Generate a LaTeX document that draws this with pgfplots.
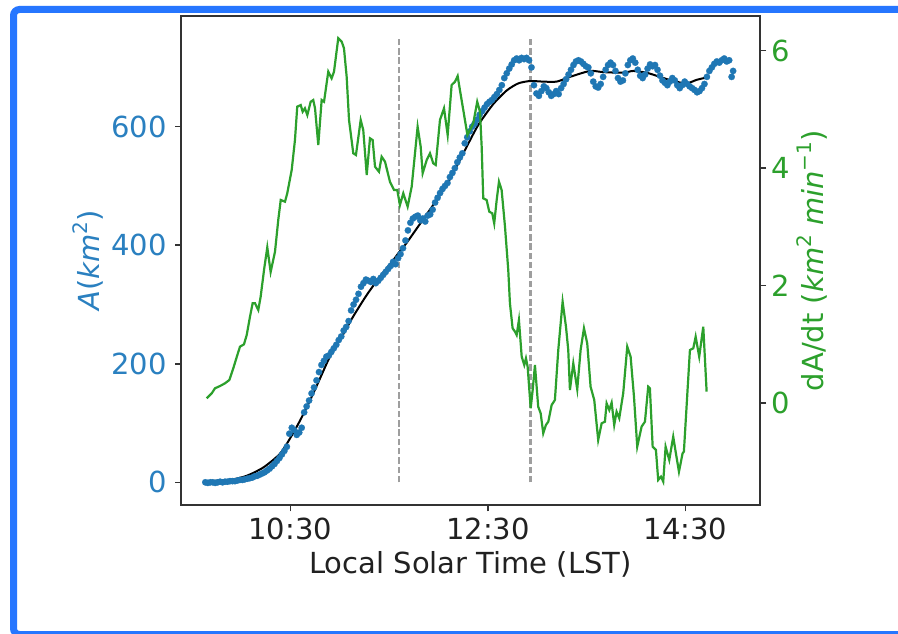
\documentclass[border=0pt]{standalone}
\usepackage{fontspec}
\setmainfont{DejaVu Sans}
\usepackage{pgfplots}
\pgfplotsset{compat=1.18}
\definecolor{tabblue}{HTML}{1F77B4}
\definecolor{labblue}{HTML}{2A80C0}
\definecolor{tabgreen}{HTML}{2CA02C}
\definecolor{framecol}{HTML}{2676FF}
\newcommand\sups[1]{\raisebox{0.42em}{\fontsize{20}{20}\selectfont #1}}
\newcommand\bigfont{\fontsize{29}{35}\selectfont}

\pgfplotstableread{
t A
9.640 0
9.665 -1
9.690 0
9.715 0
9.740 -1
9.765 0
9.790 1
9.815 0
9.840 1
9.865 1
9.890 2
9.915 2
9.940 2
9.965 3
9.990 4
10.015 4
10.040 5
10.065 6
10.090 7
10.115 8
10.140 10
10.165 11
10.190 13
10.215 15
10.240 17
10.265 20
10.290 23
10.315 27
10.340 31
10.365 36
10.390 41
10.415 47
10.440 53
10.465 60
10.490 82
10.515 92
10.540 88
10.565 80
10.590 84
10.615 92
10.640 118
10.665 128
10.690 138
10.715 150
10.740 160
10.765 172
10.790 186
10.815 198
10.840 205
10.865 212
10.890 214
10.915 220
10.940 226
10.965 232
10.990 240
11.015 246
11.040 256
11.065 262
11.090 272
11.115 290
11.140 300
11.165 308
11.190 318
11.215 330
11.240 336
11.265 342
11.290 340
11.315 338
11.340 343
11.365 336
11.390 340
11.415 345
11.440 350
11.465 355
11.490 360
11.515 365
11.540 372
11.565 368
11.590 378
11.615 385
11.640 395
11.665 408
11.690 425
11.715 438
11.740 445
11.765 448
11.790 450
11.815 442
11.840 445
11.865 440
11.890 450
11.915 452
11.940 460
11.965 472
11.990 480
12.015 488
12.040 495
12.065 500
12.090 505
12.115 515
12.140 522
12.165 530
12.190 540
12.215 548
12.240 555
12.265 572
12.290 582
12.315 592
12.340 600
12.365 605
12.390 612
12.415 620
12.440 626
12.465 632
12.490 638
12.515 642
12.540 645
12.565 650
12.590 655
12.615 662
12.640 670
12.665 682
12.690 690
12.715 698
12.740 705
12.765 712
12.790 715
12.815 712
12.840 716
12.865 714
12.890 716
12.915 712
12.940 700
12.965 670
12.990 656
13.015 652
13.040 660
13.065 668
13.090 665
13.115 658
13.140 652
13.165 655
13.190 660
13.215 655
13.240 665
13.265 672
13.290 680
13.315 688
13.340 696
13.365 704
13.390 710
13.415 712
13.440 710
13.465 706
13.490 702
13.515 700
13.540 690
13.565 676
13.590 668
13.615 666
13.640 672
13.665 684
13.690 696
13.715 704
13.740 708
13.765 704
13.790 694
13.815 682
13.840 676
13.865 678
13.890 690
13.915 704
13.940 712
13.965 715
13.990 708
14.015 696
14.040 686
14.065 682
14.090 688
14.115 698
14.140 705
14.165 702
14.190 704
14.215 696
14.240 686
14.265 678
14.290 674
14.315 670
14.340 676
14.365 682
14.390 678
14.415 670
14.440 665
14.465 670
14.490 676
14.515 672
14.540 668
14.565 665
14.590 662
14.615 658
14.640 660
14.665 665
14.690 672
14.715 684
14.740 694
14.765 700
14.790 706
14.815 710
14.840 708
14.865 712
14.890 715
14.915 710
14.940 712
14.965 684
14.980 694
}\areadata

\pgfplotstableread{
t A
9.654 2
9.890 4
10.059 11
10.227 25
10.395 48
10.497 74
10.598 104
10.699 138
10.800 175
10.901 212
11.036 250
11.137 280
11.273 316
11.407 347
11.542 375
11.600 388
11.677 404
11.812 436
11.946 468
12.082 502
12.183 533
12.284 566
12.402 603
12.553 638
12.689 661
12.806 673
12.925 677
13.059 676
13.195 676
13.329 684
13.531 694
13.666 692
13.868 691
13.969 694
14.105 691
14.240 684
14.374 677
14.510 673
14.611 679
14.712 683
}\fitdata

\pgfplotstableread{
t D
9.654 0.085
9.705 0.170
9.738 0.255
9.789 0.294
9.839 0.340
9.883 0.396
9.923 0.595
9.964 0.821
9.991 0.963
10.031 1.003
10.059 1.162
10.092 1.473
10.119 1.701
10.143 1.701
10.176 1.587
10.200 1.813
10.234 2.267
10.267 2.653
10.301 2.233
10.345 2.578
10.378 3.117
10.403 3.458
10.446 3.429
10.469 3.571
10.514 3.968
10.547 4.478
10.570 5.044
10.605 5.073
10.625 4.959
10.648 5.017
10.672 4.903
10.706 5.129
10.732 5.158
10.750 5.017
10.783 4.393
10.817 5.158
10.841 5.129
10.884 5.640
10.918 5.527
10.942 5.640
10.985 6.208
11.020 6.150
11.043 6.037
11.070 5.555
11.094 4.818
11.137 4.252
11.164 4.223
11.212 4.818
11.238 4.648
11.273 3.883
11.306 4.507
11.333 4.478
11.357 4.024
11.397 3.939
11.424 4.194
11.458 4.109
11.508 3.769
11.549 3.628
11.582 3.628
11.609 3.372
11.643 3.571
11.687 3.344
11.728 3.684
11.788 4.704
11.819 4.364
11.839 3.912
11.880 4.138
11.913 4.252
11.946 4.082
11.971 4.053
12.014 4.818
12.055 5.017
12.092 4.563
12.132 5.413
12.166 5.469
12.193 5.566
12.216 5.328
12.250 4.988
12.292 4.563
12.351 4.762
12.391 5.129
12.419 4.959
12.436 4.364
12.452 3.486
12.486 3.458
12.513 3.259
12.543 3.231
12.563 3.061
12.588 3.458
12.611 3.769
12.638 3.628
12.672 3.003
12.705 2.267
12.722 1.701
12.749 1.276
12.773 1.218
12.790 1.162
12.813 1.417
12.841 0.793
12.867 0.651
12.884 0.765
12.901 0.622
12.932 -0.085
12.952 0.226
12.975 0.651
13.008 -0.058
13.033 -0.170
13.059 -0.510
13.086 -0.369
13.110 -0.313
13.144 -0.029
13.177 0.056
13.211 0.906
13.255 1.728
13.289 1.303
13.312 0.906
13.329 0.226
13.363 0.680
13.403 0.238
13.437 0.906
13.471 1.276
13.504 1.020
13.538 0.282
13.575 0.056
13.615 -0.624
13.650 -0.340
13.683 -0.313
13.700 0.000
13.727 -0.114
13.751 0.010
13.777 -0.369
13.801 -0.143
13.828 -0.255
13.868 0.170
13.909 0.963
13.943 0.793
13.977 0.112
14.010 -0.738
14.054 -0.398
14.088 -0.313
14.121 0.282
14.138 0.255
14.166 -0.738
14.199 -0.794
14.222 -1.304
14.250 -1.248
14.273 -1.333
14.297 -0.738
14.334 -0.964
14.374 -0.568
14.401 -0.850
14.432 -1.163
14.469 -0.850
14.482 -0.823
14.543 0.906
14.577 0.935
14.601 1.133
14.637 0.793
14.678 1.303
14.712 0.197
}\ratedata

\begin{document}
\begin{tikzpicture}[x=1pt,y=1pt]
\useasboundingbox (0,0) rectangle (898,633);
\fill[white] (0,0) rectangle (898,633);
\begin{scope}
\clip (0,0) rectangle (898,633);
\draw[framecol, line width=7pt, rounded corners=6pt] (13.5,623.5) rectangle (940,-1.5);
\end{scope}

\begin{axis}[
  at={(181pt,127.7pt)}, anchor=south west, scale only axis,
  width=579pt, height=489.3pt,
  xmin=9.394, xmax=15.252, ymin=-38.8, ymax=786.7,
  xtick={10.5,12.5,14.5}, xticklabels={10:30,12:30,14:30},
  ytick={0,200,400,600},
  xtick pos=left, ytick pos=left,
  tick align=outside, major tick length=6pt,
  axis line style={line width=1.8pt, black!80},
  every tick/.style={line width=1.6pt, black!80},
  /pgf/number format/assume math mode=true,
  xticklabel style={font=\bigfont, text=black!87, inner sep=6pt},
  yticklabel style={font=\bigfont, text=labblue, inner sep=8pt},
  xlabel={Local Solar Time (LST)},
  xlabel style={font=\bigfont, text=black!87, at={(axis description cs:0.5,-0.1404)}, anchor=base, inner sep=0pt},
  ylabel={\textit{A}(\textit{km}\sups{2})},
  ylabel style={font=\bigfont, text=labblue, at={(axis description cs:-0.1606,0.5)}, anchor=center, inner sep=0pt},
]
\addplot[color=black!38, line width=2.4pt, dash pattern=on 6.5pt off 2.8pt] coordinates {(11.6,0) (11.6,750)};
\addplot[color=black!38, line width=2.4pt, dash pattern=on 6.5pt off 2.8pt] coordinates {(12.93,0) (12.93,750)};
\addplot[only marks, color=tabblue, mark=*, mark size=3.2pt, mark options={solid, fill=tabblue, draw=tabblue, line width=0.2pt}] table[x=t, y=A] {\areadata};
\addplot[black, line width=2pt, smooth, tension=0.4] table[x=t, y=A] {\fitdata};
\end{axis}

\begin{axis}[
  at={(181pt,127.7pt)}, anchor=south west, scale only axis,
  width=579pt, height=489.3pt,
  xmin=9.394, xmax=15.252, ymin=-1.735, ymax=6.587,
  axis x line=none, axis y line*=right,
  ytick={0,2,4,6},
  tick align=outside, major tick length=6pt,
  axis line style={line width=1.8pt, black!80},
  every tick/.style={line width=1.6pt, black!80},
  /pgf/number format/assume math mode=true,
  yticklabel style={font=\bigfont, text=tabgreen, inner sep=5pt},
  ylabel={dA/dt (\textit{km}\sups{2} \textit{min}\sups{−1})},
  ylabel style={font=\bigfont, text=tabgreen, at={(axis description cs:1.0898,0.5)}, anchor=center, inner sep=0pt},
]
\addplot[tabgreen, line width=2.2pt] table[x=t, y=D] {\ratedata};
\end{axis}
\end{tikzpicture}
\end{document}
